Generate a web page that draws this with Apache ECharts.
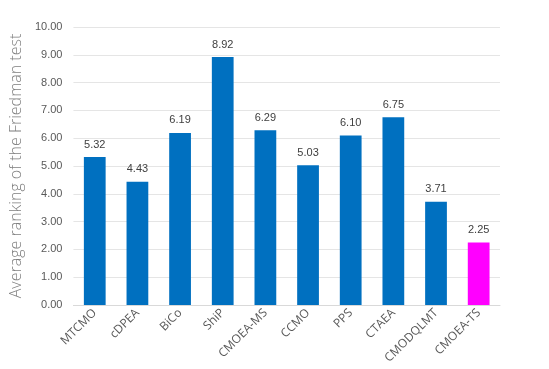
<!DOCTYPE html>
<html><head><meta charset="utf-8">
<script src="https://cdn.jsdelivr.net/npm/echarts@6/dist/echarts.min.js"></script>
<style>html,body{margin:0;padding:0;background:#fff}#c{width:549px;height:369px}</style>
</head><body><div id="c"></div>
<script>
var categories = ["MTCMO","cDPEA","BiCo","ShiP","CMOEA-MS","CCMO","PPS","CTAEA","CMODQLMT","CMOEA-TS"];
var values = [5.32,4.43,6.19,8.92,6.29,5.03,6.10,6.75,3.71,2.25];
var highlightIndex = 9;
var yTitle = "Average ranking of the Friedman test";
var chart = echarts.init(document.getElementById('c'));
chart.setOption({
  animation:false,
  grid:{left:67,right:49,top:27,bottom:64},
  xAxis:{type:'category',data:categories,
    axisLine:{lineStyle:{color:'#d9d9d9'}},axisTick:{show:false},
    axisLabel:{rotate:45,color:'#595959',fontSize:12,fontFamily:'Open Sans',margin:6,interval:0}},
  yAxis:{type:'value',min:0,max:10,interval:1,
    name:yTitle,nameLocation:'middle',nameGap:46,
    nameTextStyle:{color:'#7f7f7f',fontSize:16,fontFamily:'Open Sans',fontWeight:300},
    axisLabel:{formatter:function(v){return v.toFixed(2);},color:'#595959',fontSize:11,fontFamily:'Liberation Sans',margin:11},
    splitLine:{lineStyle:{color:'#e5e5e5'}},axisLine:{show:false},axisTick:{show:false}},
  series:[{type:'bar',barWidth:'51%',
    data:values.map(function(v,i){return {value:v,itemStyle:{color:i===highlightIndex?'#FF00FF':'#0070C0'}};}),
    label:{show:true,position:'top',formatter:function(p){return p.value.toFixed(2);},color:'#404040',fontSize:11,fontFamily:'Liberation Sans',distance:7}}]
});
</script></body></html>
